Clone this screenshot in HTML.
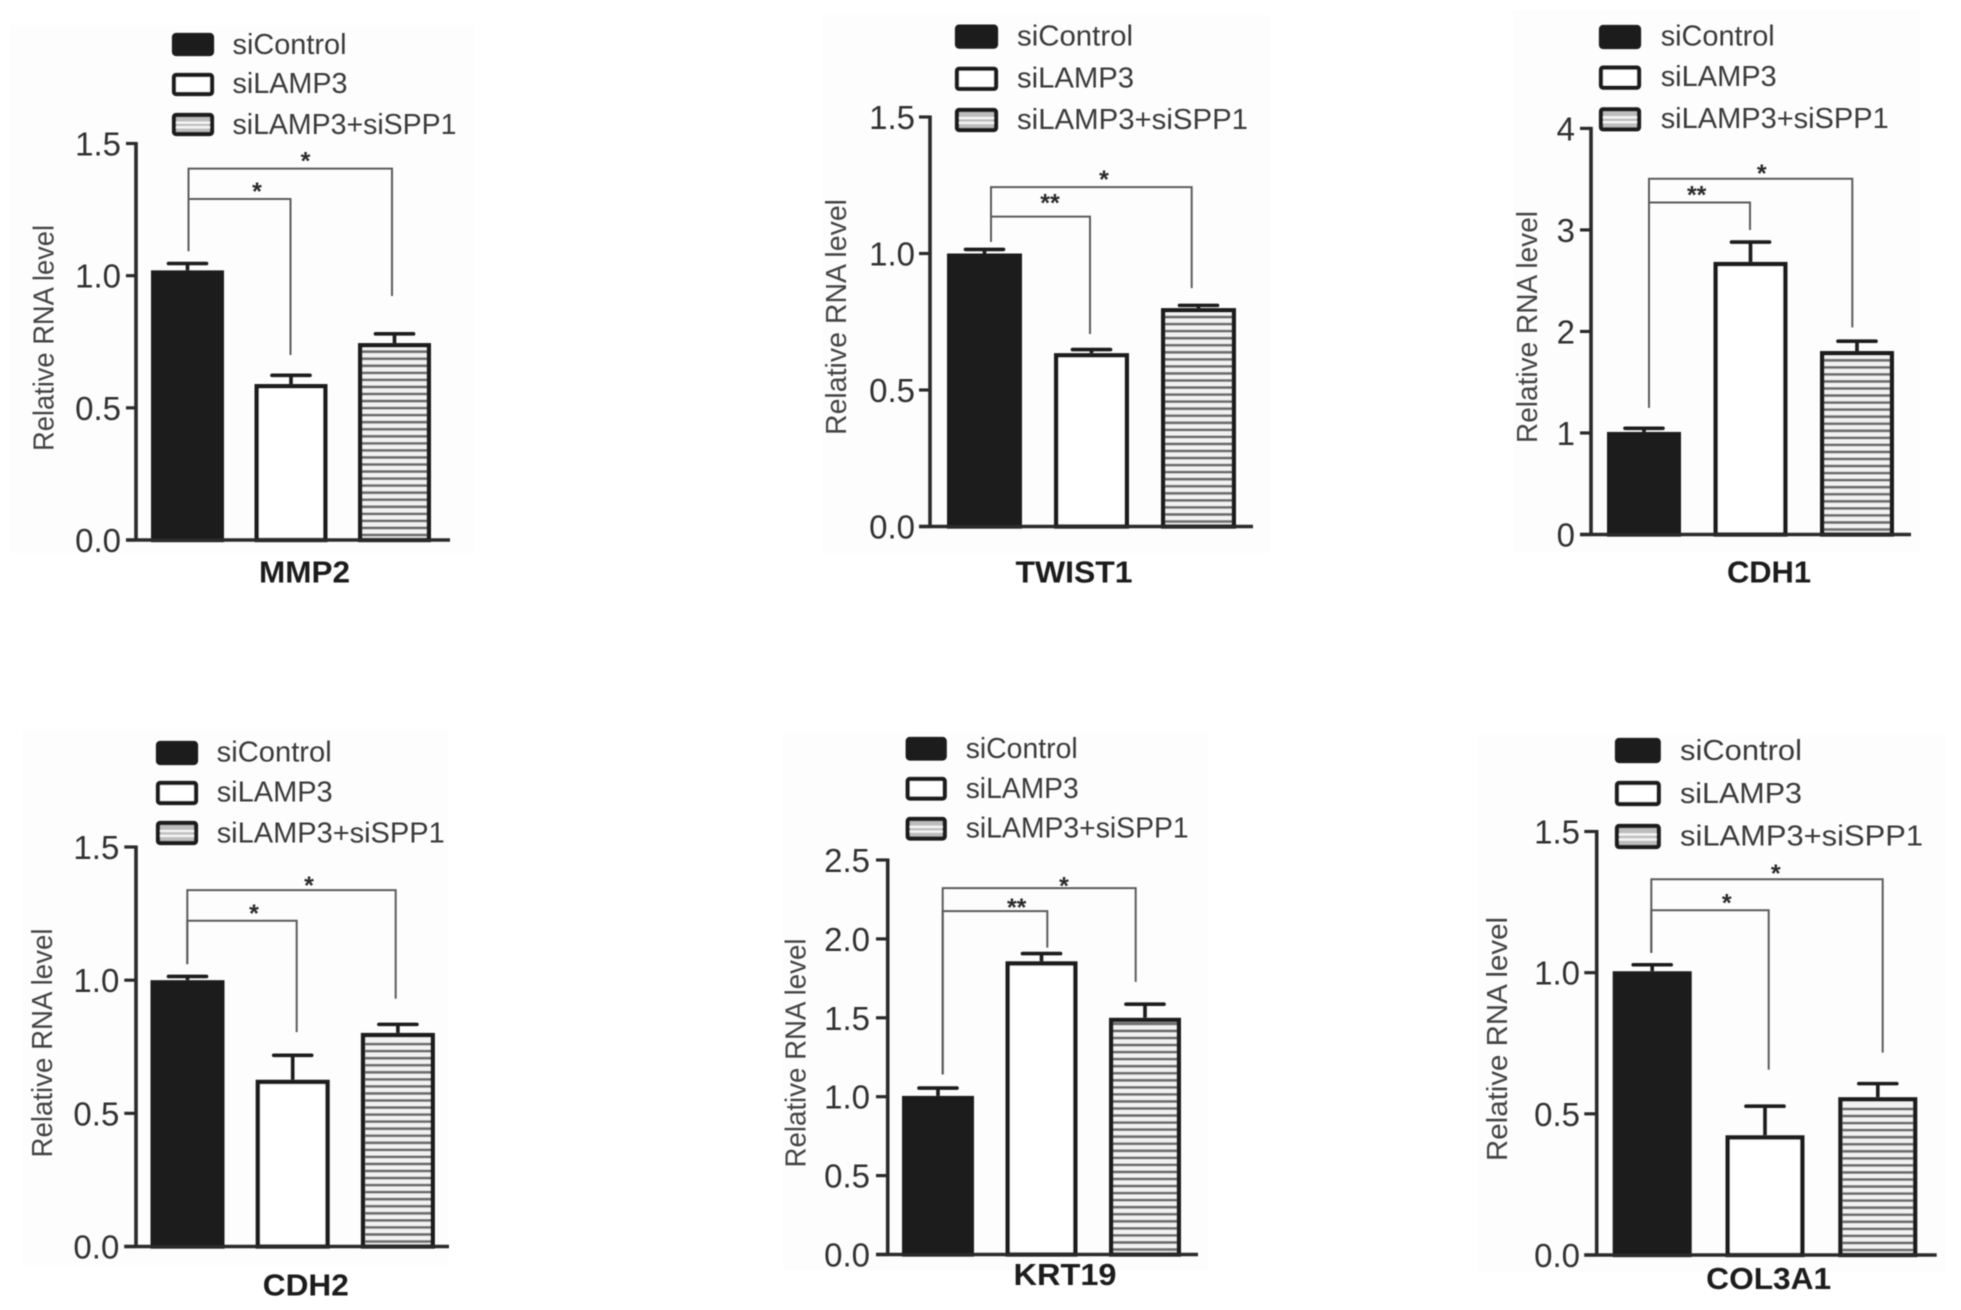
<!DOCTYPE html>
<html lang="en">
<head>
<meta charset="utf-8">
<title>Relative RNA level bar charts</title>
<style>
html,body{margin:0;padding:0;background:#fff;}
svg{display:block;}
text{font-family:"Liberation Sans",Arial,sans-serif;}
</style>
</head>
<body>
<svg id="figure" xmlns="http://www.w3.org/2000/svg" width="1961" height="1310" viewBox="0 0 1961 1310">
<defs>
<filter id="soft" x="-2%" y="-2%" width="104%" height="104%"><feGaussianBlur stdDeviation="0.6"/></filter>
</defs>
<rect x="0" y="0" width="1961" height="1310" fill="#ffffff"/>
</svg>
<script>
const groupNames = ['siControl', 'siLAMP3', 'siLAMP3+siSPP1'];
const axisTitle = 'Relative RNA level';

const mmp2Means = [1.02, 0.59, 0.745];
const mmp2Errors = [0.026, 0.033, 0.035];
const mmp2Ticks = ['0.0', '0.5', '1.0', '1.5'];
const mmp2Levels = [1.29, 1.405];
const mmp2LegEnds = [0.7, 0.923];
const mmp2Stars = ['*', '*'];
const mmp2Start = 1.093;

const twist1Means = [1.0, 0.635, 0.8];
const twist1Errors = [0.015, 0.013, 0.01];
const twist1Ticks = ['0.0', '0.5', '1.0', '1.5'];
const twist1Levels = [1.135, 1.243];
const twist1LegEnds = [0.705, 0.873];
const twist1Stars = ['**', '*'];
const twist1Start = 1.043;

const cdh1Means = [1.01, 2.685, 1.807];
const cdh1Errors = [0.036, 0.195, 0.097];
const cdh1Ticks = ['0', '1', '2', '3', '4'];
const cdh1Levels = [3.27, 3.504];
const cdh1LegEnds = [2.999, 2.04];
const cdh1Stars = ['**', '*'];
const cdh1Start = 1.249;

const cdh2Means = [1.0, 0.626, 0.802];
const cdh2Errors = [0.014, 0.092, 0.032];
const cdh2Ticks = ['0.0', '0.5', '1.0', '1.5'];
const cdh2Levels = [1.223, 1.338];
const cdh2LegEnds = [0.805, 0.93];
const cdh2Stars = ['*', '*'];
const cdh2Start = 1.06;

const krt19Means = [1.005, 1.858, 1.5];
const krt19Errors = [0.05, 0.049, 0.086];
const krt19Ticks = ['0.0', '0.5', '1.0', '1.5', '2.0', '2.5'];
const krt19Levels = [2.176, 2.322];
const krt19LegEnds = [1.945, 1.728];
const krt19Stars = ['**', '*'];
const krt19Start = 1.141;

const col3a1Means = [1.005, 0.424, 0.559];
const col3a1Errors = [0.023, 0.103, 0.048];
const col3a1Ticks = ['0.0', '0.5', '1.0', '1.5'];
const col3a1Levels = [1.221, 1.331];
const col3a1LegEnds = [0.656, 0.717];
const col3a1Stars = ['*', '*'];
const col3a1Start = 1.07;

const SVG_NS = 'http://www.w3.org/2000/svg';
const figure = document.getElementById('figure');

function make(parent, tag, attrs, content) {
  const el = document.createElementNS(SVG_NS, tag);
  for (const key in attrs) el.setAttribute(key, attrs[key]);
  if (content !== undefined) el.textContent = content;
  parent.appendChild(el);
  return el;
}

function drawPanel(p) {
  const f = p.frame;
  const yMax = parseFloat(p.ticks[p.ticks.length - 1]);
  const yScale = function (v) { return f.bottom - (v / yMax) * (f.bottom - f.top); };
  const barX = function (i) { return f.barLeft + i * f.pitch; };
  const barCenter = function (i) { return barX(i) + f.barWidth / 2; };

  const panelBg = make(figure, 'rect', {x: f.bg[0], y: f.bg[1], width: f.bg[2] - f.bg[0], height: f.bg[3] - f.bg[1], fill: '#fdfdfd'});
  
  

  const g = make(figure, 'g', {filter: 'url(#soft)'});
  
  

  // bars with error bars
  const sw = 4.4;
  p.means.forEach(function (mean, i) {
    const top = yScale(mean);
    const errTop = yScale(mean + p.errors[i]);
    const cx = barCenter(i);
    const stem = make(g, 'line', {x1: cx, x2: cx, y1: top, y2: errTop, stroke: '#1a1a1a', 'stroke-width': 3.6});
    
    
    const cap = make(g, 'line', {x1: cx - 19, x2: cx + 19, y1: errTop, y2: errTop, stroke: '#1a1a1a', 'stroke-width': 3.6, 'stroke-linecap': 'round'});
    
    

    const fill = i === 0 ? '#1a1a1a' : (i === 1 ? '#ffffff' : '#f2f2f2');
    const bar = make(g, 'rect', {x: barX(i) + sw / 2, y: top + sw / 2, width: f.barWidth - sw, height: Math.max(0, f.bottom - top - sw / 2), fill: fill, stroke: '#1a1a1a', 'stroke-width': sw});
    
    

    if (i === 2) {
      for (let y = f.bottom - 5; y > top + sw + 1.5; y -= 7.05) {
        const hatch = make(g, 'line', {x1: barX(i) + sw, x2: barX(i) + f.barWidth - sw, y1: y, y2: y, stroke: '#6e6e6e', 'stroke-width': 2.8});
        
        
      }
    }
  });

  // axes
  const yAxis = make(g, 'line', {x1: f.axisX, x2: f.axisX, y1: f.top - 1.5, y2: f.bottom + 1.5, stroke: '#2a2a2a', 'stroke-width': 3.6});
  
  
  const xAxis = make(g, 'line', {x1: f.tickLeft, x2: f.axisEnd, y1: f.bottom, y2: f.bottom, stroke: '#2a2a2a', 'stroke-width': 3.4});
  
  

  p.ticks.forEach(function (label) {
    const y = yScale(parseFloat(label));
    const tick = make(g, 'line', {x1: f.tickLeft, x2: f.axisX, y1: y, y2: y, stroke: '#2a2a2a', 'stroke-width': 3.2});
    
    
    const tickText = make(g, 'text', {x: f.labelRight, y: y + 12, 'font-size': 33, 'text-anchor': 'end', fill: '#333333'}, label);
    
    
  });

  // axis titles
  const yTitle = make(g, 'text', {x: f.titleX, y: f.titleY, 'font-size': 29, 'text-anchor': 'middle', fill: '#444444', textLength: f.titleLen, lengthAdjust: 'spacingAndGlyphs', transform: 'rotate(-90 ' + f.titleX + ' ' + f.titleY + ')'}, axisTitle);
  
  
  const geneTitle = make(g, 'text', {x: f.geneX, y: f.geneY, 'font-size': 31, 'font-weight': 'bold', 'text-anchor': 'middle', fill: '#1c1c1c', textLength: f.geneLen, lengthAdjust: 'spacingAndGlyphs'}, p.gene);
  
  

  // significance brackets
  const leftX = f.bracketX[0];
  const startY = yScale(p.start);
  p.levels.forEach(function (level, i) {
    const y = yScale(level);
    const rightX = f.bracketX[i + 1];
    const endY = yScale(p.legEnds[i]);
    const bracket = make(g, 'path', {d: 'M' + leftX + ' ' + startY + 'V' + y + 'H' + rightX + 'V' + endY, fill: 'none', stroke: '#5c5c5c', 'stroke-width': 2});
    
    
    const star = make(g, 'text', {x: f.starX[i], y: y - f.starGap[i] + 12, 'font-size': 25, 'font-weight': 'bold', 'text-anchor': 'middle', fill: '#2c2c2c'}, p.stars[i]);
    
    
  });

  // legend
  groupNames.forEach(function (name, i) {
    const swTop = f.legendY[i];
    const swFill = i === 0 ? '#1a1a1a' : (i === 1 ? '#ffffff' : '#bdbdbd');
    const swatch = make(g, 'rect', {x: f.legendX + 2, y: swTop + 2, width: f.legendW - 4, height: f.legendH - 4, rx: 2, fill: swFill, stroke: '#1a1a1a', 'stroke-width': 4.2});
    
    
    if (i === 2) {
      [0.42, 0.62].forEach(function (frac) {
        const stripe = make(g, 'line', {x1: f.legendX + 4, x2: f.legendX + f.legendW - 4, y1: swTop + f.legendH * frac, y2: swTop + f.legendH * frac, stroke: '#f4f4f4', 'stroke-width': 2.4});
        
        
      });
    }
    const label = make(g, 'text', {x: f.legendTextX, y: f.legendBase[i], 'font-size': 29, fill: '#3a3a3a', textLength: f.legendLen[i], lengthAdjust: 'spacingAndGlyphs'}, name);
    
    
  });
}

const panels = [
  {gene: 'MMP2', means: mmp2Means, errors: mmp2Errors, ticks: mmp2Ticks, levels: mmp2Levels, legEnds: mmp2LegEnds, stars: mmp2Stars, start: mmp2Start,
   frame: {bg: [10, 25, 475, 553], axisX: 136, axisEnd: 450, tickLeft: 126, top: 143.5, bottom: 540, barLeft: 151, barWidth: 73, pitch: 103.5, labelRight: 121,
     titleX: 53.3, titleY: 338, titleLen: 226, geneX: 304.5, geneY: 582.5, geneLen: 91,
     bracketX: [188.5, 290.5, 392], starX: [257, 305.5], starGap: [11, 11],
     legendX: 172, legendW: 42, legendH: 23, legendY: [33, 73, 113], legendTextX: 232.5, legendBase: [54, 93, 134], legendLen: [114, 115, 224]}},
  {gene: 'TWIST1', means: twist1Means, errors: twist1Errors, ticks: twist1Ticks, levels: twist1Levels, legEnds: twist1LegEnds, stars: twist1Stars, start: twist1Start,
   frame: {bg: [823, 15, 1270, 553], axisX: 930, axisEnd: 1253, tickLeft: 919, top: 117, bottom: 526.5, barLeft: 947, barWidth: 75, pitch: 107, labelRight: 915,
     titleX: 845.8, titleY: 317, titleLen: 236, geneX: 1074, geneY: 582.5, geneLen: 117,
     bracketX: [991, 1090, 1191.7], starX: [1050, 1104], starGap: [17, 11],
     legendX: 955, legendW: 43, legendH: 24, legendY: [24.6, 66.8, 108], legendTextX: 1017, legendBase: [45.7, 87.4, 129], legendLen: [116, 117, 231]}},
  {gene: 'CDH1', means: cdh1Means, errors: cdh1Errors, ticks: cdh1Ticks, levels: cdh1Levels, legEnds: cdh1LegEnds, stars: cdh1Stars, start: cdh1Start,
   frame: {bg: [1513, 10, 1920, 552], axisX: 1591, axisEnd: 1911, tickLeft: 1580, top: 128.4, bottom: 534.5, barLeft: 1607, barWidth: 74, pitch: 106.5, labelRight: 1575,
     titleX: 1536.8, titleY: 327, titleLen: 232, geneX: 1769, geneY: 582.5, geneLen: 84,
     bracketX: [1649, 1750, 1852.3], starX: [1696.7, 1761.7], starGap: [11, 9],
     legendX: 1599, legendW: 42, legendH: 24, legendY: [25, 65.6, 107.3], legendTextX: 1660.7, legendBase: [45.7, 86, 128], legendLen: [114, 116, 228]}},
  {gene: 'CDH2', means: cdh2Means, errors: cdh2Errors, ticks: cdh2Ticks, levels: cdh2Levels, legEnds: cdh2LegEnds, stars: cdh2Stars, start: cdh2Start,
   frame: {bg: [23, 729, 448, 1265], axisX: 136, axisEnd: 449, tickLeft: 124.3, top: 847, bottom: 1246.5, barLeft: 150.5, barWidth: 74, pitch: 105.2, labelRight: 119.3,
     titleX: 52, titleY: 1043, titleLen: 229, geneX: 305.8, geneY: 1295.5, geneLen: 86,
     bracketX: [187.3, 296.7, 395.7], starX: [254, 309], starGap: [11, 8],
     legendX: 156, legendW: 42, legendH: 24, legendY: [741, 781, 821], legendTextX: 216.7, legendBase: [761.4, 801.7, 842.7], legendLen: [115, 116, 228]}},
  {gene: 'KRT19', means: krt19Means, errors: krt19Errors, ticks: krt19Ticks, levels: krt19Levels, legEnds: krt19LegEnds, stars: krt19Stars, start: krt19Start,
   frame: {bg: [783, 731, 1208, 1270], axisX: 887.7, axisEnd: 1198, tickLeft: 876, top: 860, bottom: 1254.5, barLeft: 902, barWidth: 72, pitch: 103.5, labelRight: 870,
     titleX: 805.5, titleY: 1053, titleLen: 229, geneX: 1065, geneY: 1285, geneLen: 103,
     bracketX: [942.7, 1047.3, 1135.7], starX: [1016.7, 1064], starGap: [7, 5.5],
     legendX: 905.7, legendW: 41, legendH: 23.5, legendY: [737, 777, 817], legendTextX: 965.7, legendBase: [758, 797.8, 837.7], legendLen: [112, 113, 223]}},
  {gene: 'COL3A1', means: col3a1Means, errors: col3a1Errors, ticks: col3a1Ticks, levels: col3a1Levels, legEnds: col3a1LegEnds, stars: col3a1Stars, start: col3a1Start,
   frame: {bg: [1477, 735, 1945, 1272], axisX: 1596.7, axisEnd: 1936.7, tickLeft: 1584.3, top: 831.5, bottom: 1255, barLeft: 1612.7, barWidth: 79, pitch: 112.8, labelRight: 1580,
     titleX: 1507, titleY: 1039, titleLen: 244, geneX: 1768.7, geneY: 1289, geneLen: 125,
     bracketX: [1651.3, 1768.7, 1882.7], starX: [1726.7, 1775.7], starGap: [11, 9],
     legendX: 1615, legendW: 45.7, legendH: 25, legendY: [738, 781, 824], legendTextX: 1680, legendBase: [759.8, 802.9, 845.5], legendLen: [122, 122, 243]}}
];

panels.forEach(drawPanel);
</script>
</body>
</html>
